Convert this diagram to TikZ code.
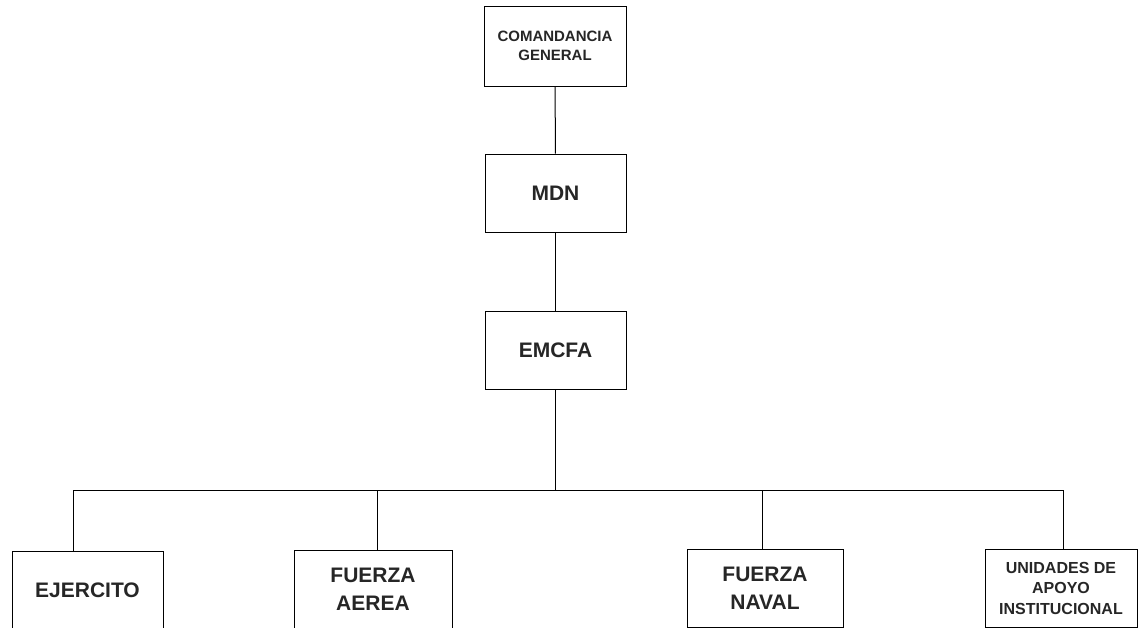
\documentclass[tikz,border=0pt]{standalone}
\usepackage{fontspec}
\setmainfont{Liberation Sans}
\begin{document}
\begin{tikzpicture}[x=1pt,y=-1pt,
  box/.style={draw, line width=1pt, inner sep=0pt, align=center, font=\bfseries, text=black!85},
  conn/.style={line width=1pt}]
\useasboundingbox (0,0) rectangle (1138,627);
\clip (0,0) rectangle (1138,627);
\node[box, minimum width=142pt, minimum height=80pt, font=\fontsize{15}{18.5}\selectfont\bfseries] (cg) at (555,46) {COMANDANCIA\\GENERAL};
\node[box, minimum width=141pt, minimum height=78pt, font=\fontsize{21}{25}\selectfont\bfseries] (mdn) at (555.5,193) {MDN};
\node[box, minimum width=141pt, minimum height=78pt, font=\fontsize{21}{25}\selectfont\bfseries] (emcfa) at (555.5,350) {EMCFA};
\node[box, minimum width=151pt, minimum height=78pt, font=\fontsize{21}{25}\selectfont\bfseries] (ej) at (87.5,590) {EJERCITO};
\node[box, minimum width=158pt, minimum height=78pt, font=\fontsize{21}{28}\selectfont\bfseries] (fa) at (373,589) {FUERZA\\AEREA};
\node[box, minimum width=156pt, minimum height=78pt, font=\fontsize{21}{28}\selectfont\bfseries] (fn) at (765,588) {FUERZA\\NAVAL};
\node[box, minimum width=152pt, minimum height=78pt, font=\fontsize{16}{20.5}\selectfont\bfseries] (ua) at (1061,588) {UNIDADES DE\\APOYO\\INSTITUCIONAL};
\draw[conn] (cg) -- (mdn);
\draw[conn] (mdn) -- (emcfa);
\coordinate (bus) at (555.5,490);
\coordinate (b1) at (73,490);
\coordinate (b2) at (377,490);
\coordinate (b3) at (762,490);
\coordinate (b4) at (1063,490);
\draw[conn] (emcfa) -- (bus);
\draw[conn] (b1) -- (b4);
\draw[conn] (b1) -- (b1 |- ej.north);
\draw[conn] (b2) -- (b2 |- fa.north);
\draw[conn] (b3) -- (b3 |- fn.north);
\draw[conn] (b4) -- (b4 |- ua.north);
\end{tikzpicture}
\end{document}
